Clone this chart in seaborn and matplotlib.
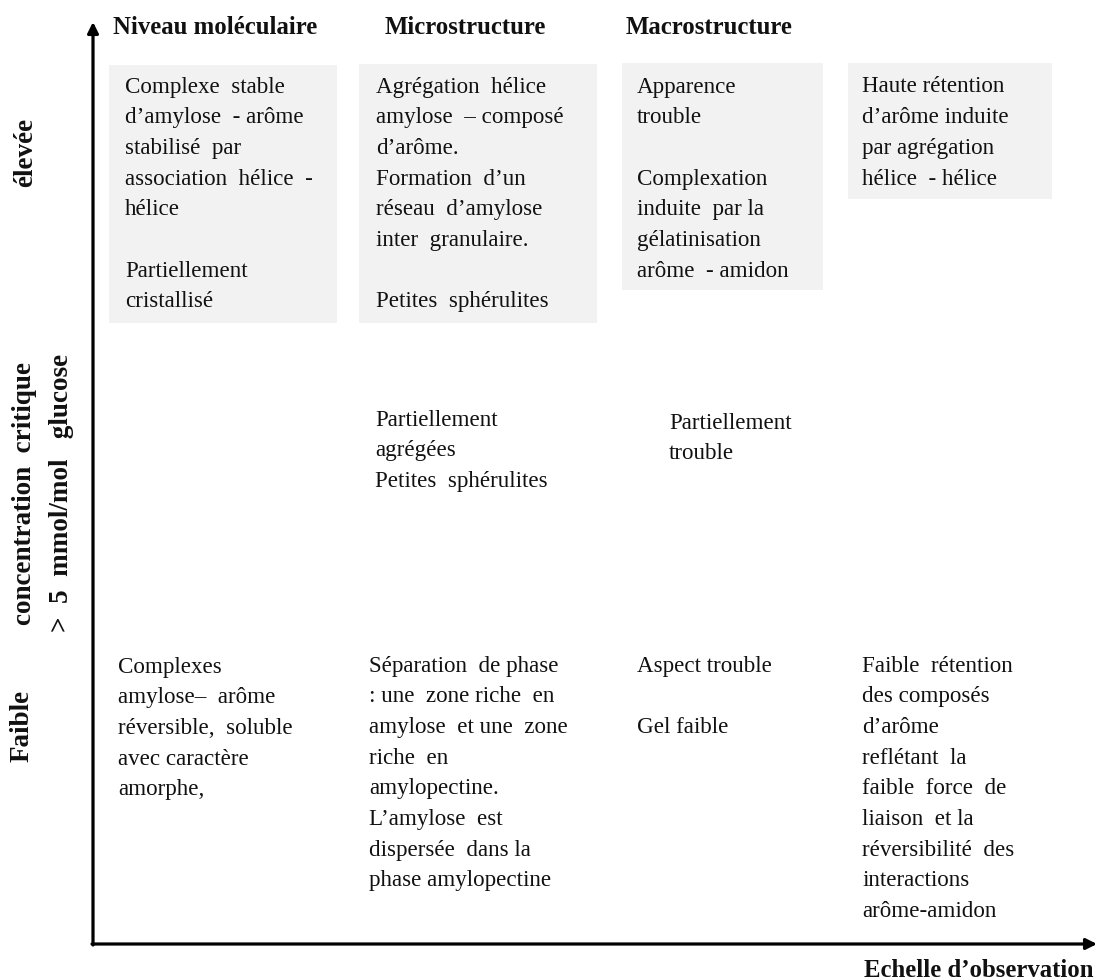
import matplotlib
matplotlib.use("Agg")
import matplotlib.pyplot as plt
import matplotlib.patches as mpatches
import seaborn as sns

# ---------------- textes du schéma ----------------
col_headers = ["Niveau moléculaire", "Microstructure", "Macrostructure"]
axis_y_labels = ["élevée", "concentration  critique", ">  5  mmol/mol   glucose", "Faible"]
axis_x_label = "Echelle d’observation"

# concentration élevée (cases grisées)
high_mol = ["Complexe  stable", "d’amylose  - arôme", "stabilisé  par",
            "association  hélice  -", "hélice", "", "Partiellement", "cristallisé"]
high_micro = ["Agrégation  hélice", "amylose  – composé", "d’arôme.", "Formation  d’un",
              "réseau  d’amylose", "inter  granulaire.", "", "Petites  sphérulites"]
high_macro = ["Apparence", "trouble", "", "Complexation", "induite  par la",
              "gélatinisation", "arôme  - amidon"]
high_retention = ["Haute rétention", "d’arôme induite", "par agrégation", "hélice  - hélice"]

# concentration critique
crit_micro = ["Partiellement", "agrégées", "Petites  sphérulites"]
crit_macro = ["Partiellement", "trouble"]

# concentration faible
low_mol = ["Complexes", "amylose–  arôme", "réversible,  soluble", "avec caractère", "amorphe,"]
low_micro = ["Séparation  de phase", ": une  zone riche  en", "amylose  et une  zone",
             "riche  en", "amylopectine.", "L’amylose  est", "dispersée  dans la",
             "phase amylopectine"]
low_macro = ["Aspect trouble", "", "Gel faible"]
low_retention = ["Faible  rétention", "des composés", "d’arôme", "reflétant  la",
                 "faible  force  de", "liaison  et la", "réversibilité  des",
                 "interactions", "arôme-amidon"]

# ---------------- mise en page (pixels) ----------------
W, H = 1097, 980
sns.set_theme(style="white")
plt.rcParams['font.family'] = ['Liberation Serif', 'DejaVu Serif']

fig = plt.figure(figsize=(W / 100, H / 100), dpi=100)
ax = fig.add_axes([0, 0, 1, 1])
ax.set_xlim(0, W)
ax.set_ylim(H, 0)
ax.axis('off')

BODY = 16.6
HEAD = 17.8
SIDE = 19.5
STEP = 30.7
INK = '#111111'

# cases grisées : (x0, y0, x1, y1)
boxes = [(109, 65, 337, 323), (359, 64, 597, 323), (622, 63, 823, 290), (848, 63, 1052, 199)]
for x0, y0, x1, y1 in boxes:
    ax.add_patch(mpatches.Rectangle((x0, y0), x1 - x0, y1 - y0,
                                    facecolor='#f2f2f2', edgecolor='none', zorder=0))

def block(lines, x, y_first):
    for i, line in enumerate(lines):
        if line:
            ax.text(x, y_first + i * STEP, line, fontsize=BODY, color=INK,
                    ha='left', va='center')

blocks = [
    (high_mol, 125, 87), (high_micro, 376, 87), (high_macro, 637, 87), (high_retention, 862, 87),
    (crit_micro, 375, 420), (crit_macro, 669, 423),
    (low_mol, 118, 667), (low_micro, 369, 666), (low_macro, 637, 666), (low_retention, 862, 666),
]
for lines, x, y in blocks:
    block(lines, x, y)

# en-têtes de colonnes
for label, x in zip(col_headers, [113, 385, 626]):
    ax.text(x, 28, label, fontsize=HEAD, fontweight='bold', color=INK, ha='left', va='center')

# axes fléchés
ax.annotate('', xy=(93, 22), xytext=(93, 945),
            arrowprops=dict(arrowstyle='-|>', lw=2.3, color='black', mutation_scale=16,
                            shrinkA=0, shrinkB=0))
ax.annotate('', xy=(1097, 944), xytext=(92, 944),
            arrowprops=dict(arrowstyle='-|>', lw=2.3, color='black', mutation_scale=16,
                            shrinkA=0, shrinkB=0))

# étiquettes verticales
for label, (x, y) in zip(axis_y_labels, [(26, 152), (25, 493), (62, 493), (22, 726)]):
    ax.text(x, y, label, fontsize=SIDE, fontweight='bold', color=INK,
            rotation=90, ha='center', va='center')

ax.text(1093, 970, axis_x_label, fontsize=HEAD, fontweight='bold', color=INK,
        ha='right', va='center')

plt.savefig('out.png', dpi=100)
